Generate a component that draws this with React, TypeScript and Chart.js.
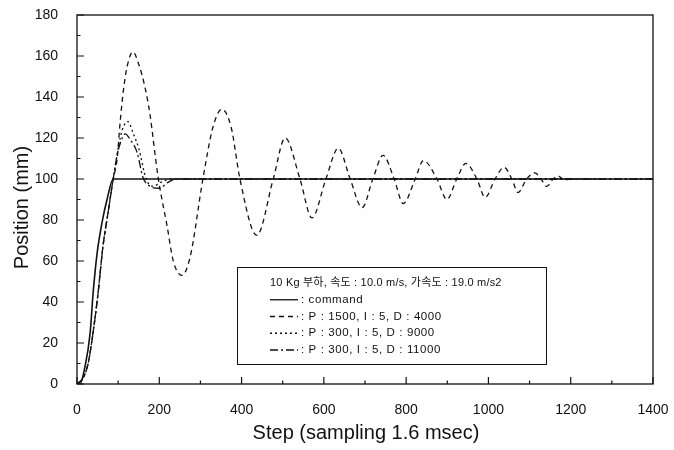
import React, { useEffect, useRef } from 'react';
import { Chart, registerables } from 'chart.js';

Chart.register(...registerables);

// ---- data ----
const commandX = [0, 7, 19, 32, 39, 49, 61, 73, 88, 1400];
const commandY = [0, 0, 8, 25, 44, 64, 79, 90, 100, 100];

const p1500X = [0, 15, 27, 39, 51, 63, 75, 88, 97, 105, 112, 122, 136, 150, 165, 177, 197, 219, 234, 255, 275, 306, 330, 352, 375, 396, 437, 477, 506, 542, 571, 605, 635, 664, 693, 719, 744, 771, 793, 822, 842, 875, 899, 923, 945, 972, 992, 1016, 1038, 1057, 1072, 1093, 1113, 1128, 1142, 1157, 1169, 1185, 1198];
const p1500Y = [0, 3, 10, 25, 44, 67, 83, 100, 109, 128, 142, 155, 162, 156, 145, 132, 101, 77, 60, 53, 62, 100, 125, 134, 125, 100, 72.5, 100, 120, 100, 81, 100, 115, 100, 86, 100, 111.5, 100, 88, 100, 109, 100, 90, 100, 107.6, 100, 91, 100, 105.7, 100, 93.4, 100, 103, 100, 96.4, 100, 101.5, 99.5, 100];

const d9000X = [0, 15, 27, 39, 51, 63, 75, 88, 100, 110, 124, 137, 150, 168, 185, 205, 230, 1400];
const d9000Y = [0, 3, 10, 25, 44, 67, 83, 100, 115, 124, 128, 122, 115, 100, 96.5, 98.5, 100, 100];

const d11000X = [0, 15, 27, 39, 51, 63, 75, 88, 98, 108, 117, 130, 146, 160, 177, 200, 222, 240, 1400];
const d11000Y = [0, 3, 10, 25, 44, 67, 83, 100, 112, 119, 122, 119, 113, 101, 96.5, 95.5, 98.5, 100, 100];

const xMin = 0, xMax = 1400, xStep = 200, xMinor = 100;
const yMin = 0, yMax = 180, yStep = 20, yMinor = 10;

const xTitle = 'Step (sampling 1.6 msec)';
const yTitle = 'Position (mm)';
const legendTitle = '10 Kg 부하, 속도 : 10.0 m/s, 가속도 : 19.0 m/s2';
const legendLabels = [': command', ': P : 1500, I : 5, D : 4000', ': P : 300, I : 5, D : 9000', ': P : 300, I : 5, D : 11000'];
const legendDashes: number[][] = [[], [5, 4], [2, 3], [8, 3, 2, 3]];

const LATIN = '"Liberation Sans", Arial, "Noto Sans CJK KR", sans-serif';
const INK = '#111';

const pts = (xs: number[], ys: number[]) => xs.map((x, i) => ({ x, y: ys[i] }));

const framePlugin = {
  id: 'frameAndLegend',
  afterDraw(chart: any) {
    const { ctx, chartArea: a, scales } = chart;
    const x = scales.x, y = scales.y;
    ctx.save();
    ctx.strokeStyle = INK;
    ctx.lineWidth = 1.3;
    ctx.setLineDash([]);
    ctx.strokeRect(a.left, a.top, a.right - a.left, a.bottom - a.top);
    ctx.lineWidth = 1.2;
    ctx.beginPath();
    for (let v = xMin; v <= xMax; v += xMinor) {
      const px = x.getPixelForValue(v);
      const len = v % xStep === 0 ? 7 : 3.5;
      ctx.moveTo(px, a.bottom);
      ctx.lineTo(px, a.bottom - len);
    }
    for (let v = yMin; v <= yMax; v += yMinor) {
      const py = y.getPixelForValue(v);
      const len = v % yStep === 0 ? 7 : 3.5;
      ctx.moveTo(a.left, py);
      ctx.lineTo(a.left + len, py);
    }
    ctx.stroke();

    // axis titles
    ctx.fillStyle = INK;
    ctx.font = `20px ${LATIN}`;
    ctx.textAlign = 'center';
    ctx.textBaseline = 'alphabetic';
    ctx.fillText(xTitle, (a.left + a.right) / 2 + 1, a.bottom + 55);
    ctx.save();
    ctx.translate(a.left - 49, (a.top + a.bottom) / 2 + 8);
    ctx.rotate(-Math.PI / 2);
    ctx.fillText(yTitle, 0, 0);
    ctx.restore();

    // legend box
    const bx = a.left + 160, by = a.top + 252, bw = 309, bh = 97;
    ctx.lineWidth = 1;
    ctx.strokeRect(bx + 0.5, by + 0.5, bw, bh);
    ctx.textAlign = 'left';
    ctx.textBaseline = 'middle';
    const rowY = (i: number) => by + 16 + i * 16.75;
    ctx.font = `11px ${LATIN}`;
    (ctx as any).letterSpacing = '0.2px';
    ctx.fillText(legendTitle, bx + 33, rowY(0));
    ctx.font = `11.5px ${LATIN}`;
    (ctx as any).letterSpacing = '0.6px';
    legendLabels.forEach((lab, i) => {
      const ry = rowY(i + 1);
      ctx.setLineDash(legendDashes[i]);
      ctx.lineWidth = 1.3;
      ctx.beginPath();
      ctx.moveTo(bx + 33, ry);
      ctx.lineTo(bx + 61, ry);
      ctx.stroke();
      ctx.setLineDash([]);
      ctx.fillText(lab, bx + 64, ry);
    });
    (ctx as any).letterSpacing = '0px';
    ctx.restore();
  },
};

export default function App() {
  const ref = useRef<HTMLCanvasElement>(null);
  useEffect(() => {
    document.body.style.margin = '0';
    const canvas = ref.current!;
    const base = {
      borderColor: INK,
      borderWidth: 1.3,
      pointRadius: 0,
      fill: false,
      cubicInterpolationMode: 'monotone' as const,
    };
    const chart = new Chart(canvas, {
      type: 'line',
      data: {
        datasets: [
          { ...base, label: 'command', data: pts(commandX, commandY), borderWidth: 1.6 },
          { ...base, label: 'P1500', data: pts(p1500X, p1500Y), borderDash: legendDashes[1] },
          { ...base, label: 'D9000', data: pts(d9000X, d9000Y), borderDash: legendDashes[2] },
          { ...base, label: 'D11000', data: pts(d11000X, d11000Y), borderDash: legendDashes[3] },
        ],
      },
      options: {
        animation: false,
        responsive: false,
        maintainAspectRatio: false,
        layout: { padding: { top: 15, right: 21, left: 0, bottom: 0 } },
        plugins: { legend: { display: false }, tooltip: { enabled: false } },
        scales: {
          x: {
            type: 'linear',
            min: xMin,
            max: xMax,
            grid: { display: false },
            border: { display: false },
            ticks: {
              stepSize: xStep,
              color: INK,
              font: { family: LATIN, size: 14 },
              padding: 10,
              maxRotation: 0,
              callback: (v: any) => String(v),
            },
            afterFit: (s: any) => { s.height = 66; s.paddingLeft = 0; s.paddingRight = 0; },
          },
          y: {
            type: 'linear',
            min: yMin,
            max: yMax,
            grid: { display: false },
            border: { display: false },
            ticks: {
              stepSize: yStep,
              color: INK,
              font: { family: LATIN, size: 14 },
              padding: 11,
              callback: (v: any) => String(v),
            },
            afterFit: (s: any) => { s.width = 77; s.paddingTop = 0; s.paddingBottom = 0; },
          },
        },
      },
      plugins: [framePlugin],
    });
    return () => chart.destroy();
  }, []);
  return (
    <div style={{ width: 674, height: 450 }}>
      <canvas ref={ref} width={674} height={450} style={{ display: 'block', background: '#fff' }} />
    </div>
  );
}
